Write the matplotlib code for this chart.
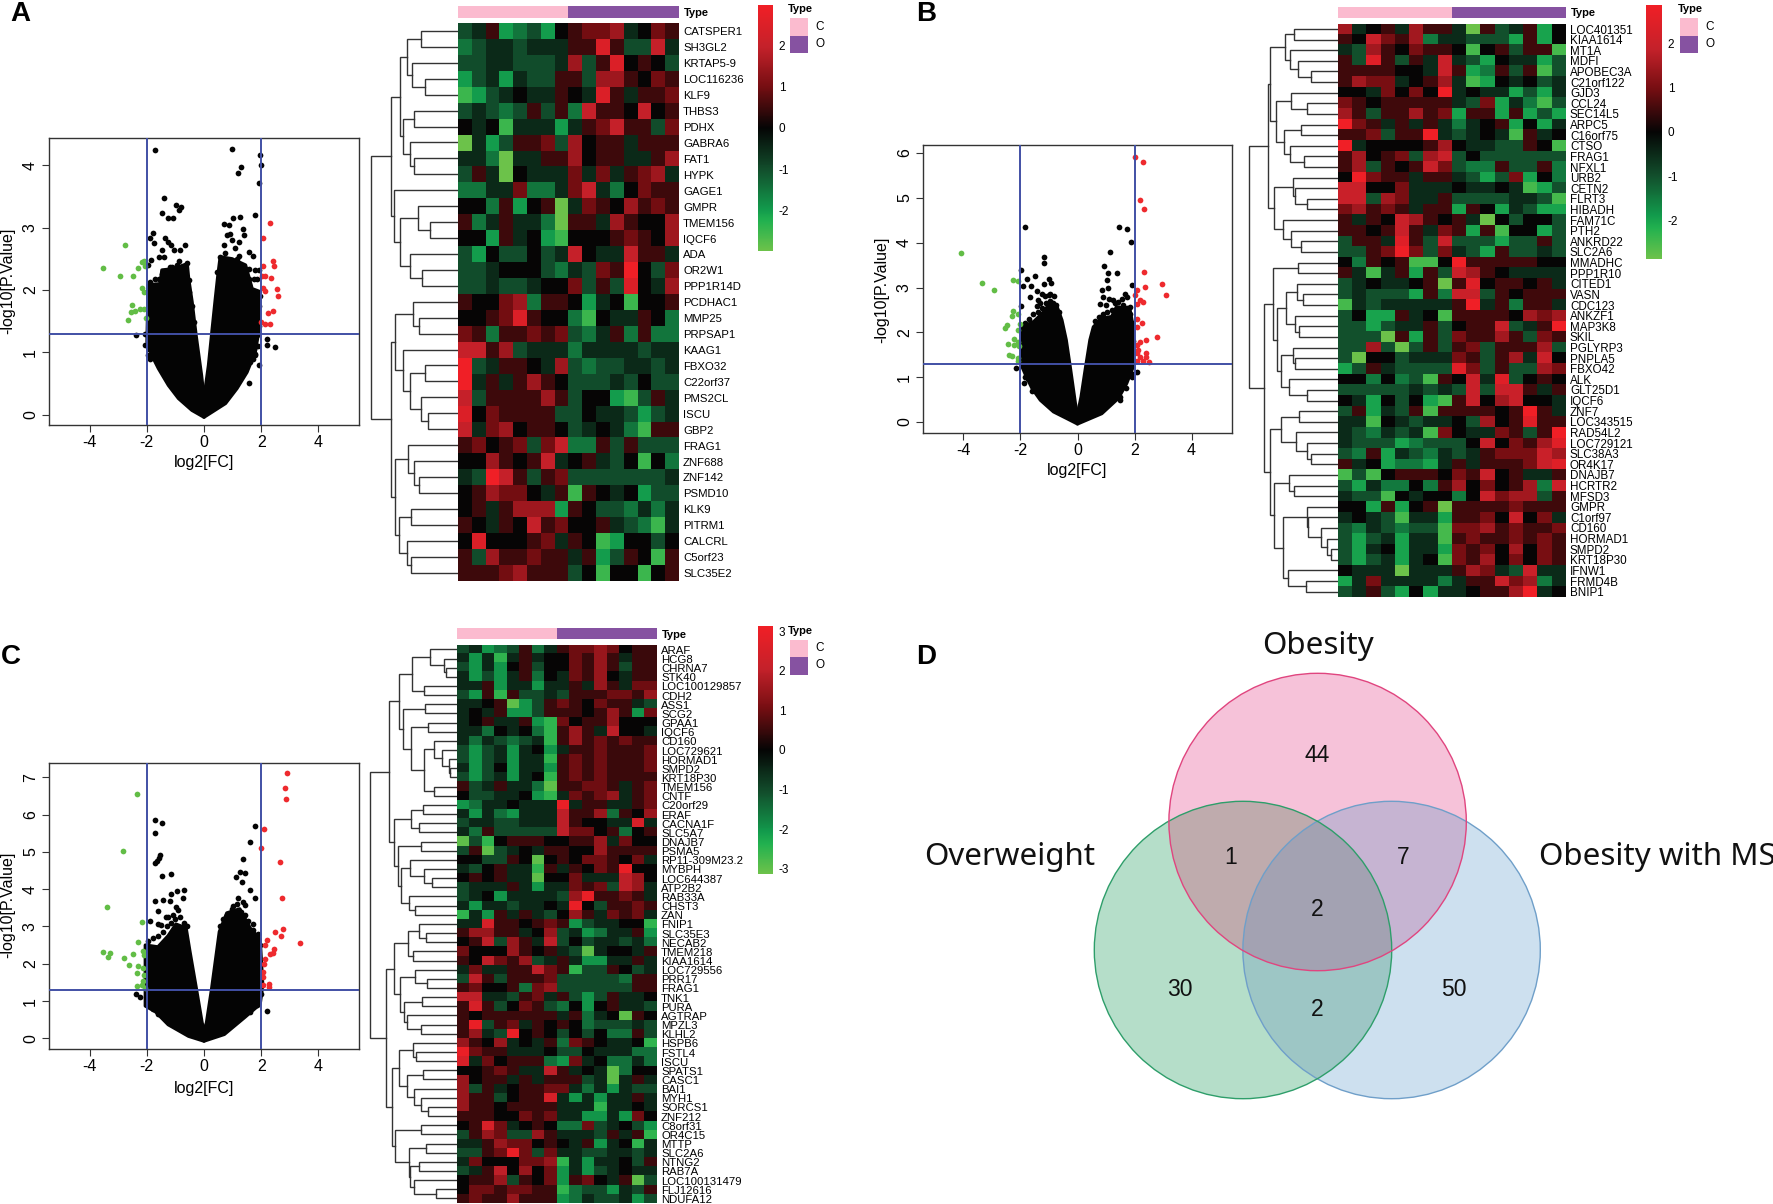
#!/usr/bin/env python
import numpy as np
import matplotlib
matplotlib.use('Agg')
import matplotlib.pyplot as plt
from matplotlib.colors import LinearSegmentedColormap, ListedColormap, Normalize
from matplotlib.patches import Circle, Polygon, Rectangle

plt.rcParams['font.family'] = ['Liberation Sans', 'DejaVu Sans']
plt.rcParams['axes.unicode_minus'] = False

W, H = 1773, 1204

# ---- panel A
A_GENES = ['CATSPER1','SH3GL2','KRTAP5-9','LOC116236','KLF9','THBS3','PDHX','GABRA6','FAT1','HYPK','GAGE1','GMPR',
  'TMEM156','IQCF6','ADA','OR2W1','PPP1R14D','PCDHAC1','MMP25','PRPSAP1','KAAG1','FBXO32','C22orf37','PMS2CL','ISCU',
  'GBP2','FRAG1','ZNF688','ZNF142','PSMD10','KLK9','PITRM1','CALCRL','C5orf23','SLC35E2']
# heatmap cells in half units of the colour scale
A_CELLS = [
[-2,-1,1,-4,-3,-2,-4,0,1,2,2,3,-1,0,2,1],
[-3,-2,-1,-1,-2,-1,-1,-1,1,1,5,1,-2,-2,4,-1],
[-2,-2,-1,-1,-2,-2,-2,-1,3,-2,1,5,0,1,0,-2],
[-4,-2,-1,-4,-1,-2,-2,1,1,-2,3,3,1,0,2,1],
[-5,-4,-2,-1,0,-1,-1,1,0,-1,5,1,-1,1,1,2],
[-2,-1,-2,-3,-2,1,-2,1,-3,4,1,1,0,4,0,1],
[0,-1,0,-5,-1,-1,-1,-4,-1,1,2,4,1,1,-2,2],
[-6,-1,-4,-2,1,1,2,-2,3,0,1,1,-1,1,1,1],
[-1,-1,-3,-6,-1,-1,1,1,3,0,1,1,-1,-1,1,3],
[-2,1,-1,-6,0,-1,-1,-1,2,-1,2,-1,1,2,3,-1],
[-3,-3,-1,-1,2,-3,-3,-1,2,4,-1,-3,0,2,1,1],
[0,0,-3,1,-4,0,1,-6,-1,2,1,0,3,1,2,1],
[1,-3,-1,1,-1,-1,-3,-6,1,1,-1,3,1,0,0,3],
[0,0,-4,1,-1,0,-4,-5,0,0,0,1,2,1,0,3],
[-2,-4,0,-2,-2,0,-2,-1,4,0,-1,-1,4,1,1,-1],
[-2,-2,-1,0,0,0,-2,-3,-1,-2,2,1,6,0,-2,2],
[-2,-2,-1,-2,-2,-1,0,0,2,-2,1,-2,5,0,-1,3],
[1,0,0,2,3,-3,1,1,0,-4,-1,0,-5,0,0,1],
[0,0,1,2,5,1,0,0,-3,-5,0,-1,-1,1,0,-3],
[2,1,-3,1,1,2,1,2,-2,-3,-1,1,-3,1,-3,-3],
[4,4,1,3,-2,-1,-1,-1,-3,-1,-1,-1,-1,-2,-1,-1],
[6,-2,-1,1,1,0,-1,3,-2,-3,-2,-2,-1,-1,-2,-1],
[6,-1,1,-1,1,3,1,0,-2,-2,-2,-1,-2,0,-2,-2],
[4,-2,1,1,1,1,3,1,-2,0,0,-4,-5,-2,1,-1],
[5,0,2,1,1,1,1,-2,-2,0,-1,-1,-2,-4,-2,-1],
[4,-1,2,3,0,1,1,0,-2,-1,0,-1,-3,-5,1,1],
[1,2,0,1,2,-2,2,4,-3,-3,1,-2,1,-2,-2,-2],
[0,0,3,1,0,1,4,-1,0,1,-1,-2,0,-5,0,-3],
[-1,-2,6,4,1,-2,1,2,-2,-2,-2,-2,-2,-2,-2,-1],
[0,1,3,2,2,0,-1,1,-5,1,0,-1,0,-4,-2,-2],
[0,1,-1,1,3,3,3,-4,1,0,-2,-2,-3,-1,-3,-1],
[1,0,-1,1,0,4,1,2,0,0,1,-1,-2,-3,-5,-1],
[0,5,0,0,0,1,2,-1,1,0,-5,-4,0,0,-2,0],
[1,-2,3,1,1,2,1,1,-1,1,-4,-2,1,0,-5,1],
[1,1,1,2,3,1,1,1,-2,0,-5,0,0,-5,0,1]]
# (merge height, upper child, lower child), 0 is a leaf
A_TREE = (260,(200,(175,(153,(111,0,0),(138,0,(98,0,0))),(166,(133,0,0),(145,0,(133,0,0)))),
  (193,0,(173,(120,0,(83,0,0)),(143,0,(108,0,0))))),
  (200,(188,(135,0,(116,0,0)),(166,0,(145,(98,0,0),(111,0,(91,0,0))))),
  (190,(150,0,(133,0,(118,0,0))),(178,(141,0,0),(153,0,(141,0,0))))))
A_MASS_L = [(0,-0.04),(-0.42,0.07),(-0.89,0.26),(-1.24,0.47),(-1.59,0.74),(-1.82,0.95),(-1.99,1.17),(-1.96,1.81),(-1.96,2.08),
  (-1.53,2.10),(-1.47,2.32),(-1.06,2.34),(-0.59,2.42),(-0.54,2.18),(-0.42,1.81),(-0.28,1.27),(-0.09,0.63),(0,0.26)]
A_MASS_R = [(0,0.26),(0.16,0.79),(0.28,1.33),(0.40,1.86),(0.49,2.24),(0.57,2.53),(0.98,2.50),(1.45,2.40),(1.68,2.02),(1.97,1.97),
  (1.91,1.33),(1.79,1.01),(1.50,0.68),(1.15,0.42),(0.75,0.18),(0,-0.04)]
A_BLACK = [(-1.70,4.24),(0.98,4.27),(1.95,4.17),(2.00,4.00),(1.30,3.98),(1.19,3.88),(1.91,3.72),(-1.41,3.48),(-0.97,3.36),(-0.80,3.33),
  (-0.88,3.28),(-1.48,3.24),(-1.26,3.15),(-1.10,3.15),(-1.80,2.92),(-1.89,2.84),(-1.74,2.76),(-1.38,2.84),(-1.26,2.77),(-1.15,2.72),
  (-0.65,2.73),(-1.06,2.64),(-0.83,2.65),(-1.47,2.64),(-1.59,2.53),(-1.41,2.53),(-1.87,2.48),(-1.96,2.40),(-0.89,2.46),(-0.59,2.44),
  (-1.18,2.37),(-1.06,2.29),(-1.47,2.26),(-1.59,2.18),(-0.54,2.16),(0.69,3.06),(0.86,3.05),(1.00,3.16),(1.27,3.17),(1.77,3.21),
  (1.35,2.98),(0.92,2.90),(0.80,2.88),(1.39,2.89),(0.98,2.81),(1.21,2.77),(0.69,2.73),(1.10,2.67),(0.75,2.60),(1.21,2.55),(1.56,2.61),
  (1.73,2.55),(1.91,2.32),(1.45,2.34),(1.33,2.37),(1.85,2.18),(1.59,2.18),(0.57,2.53),(0.86,2.47),(1.45,2.13),(-2.38,1.28),(-2.08,1.29),
  (-2.05,1.11),(2.20,1.22),(2.20,1.12),(2.48,1.09),(1.93,0.79),(1.59,0.51),(1.85,1.28),(1.9,1.7),(1.85,1.5),(1.75,1.6),(1.95,1.9),
  (1.8,1.9),(1.9,1.1),(1.8,0.95),(1.7,0.9),(-1.95,0.95),(-1.9,0.9),
  (-1.88,2.13),(-1.70,2.18),(-1.41,2.21),(-1.24,2.13),(-1.12,2.37),(-0.94,2.40),(-0.77,2.37),(-0.71,2.24),(-0.59,2.13),(-0.51,1.97),
  (-0.42,1.75),(-0.36,1.49),(-1.91,1.06),(-1.84,0.98),(0.45,2.29),(0.63,2.45),(0.80,2.42),(0.98,2.37),(1.15,2.50),(1.33,2.34),(1.56,2.34),
  (1.79,2.32),(1.74,2.18),(1.56,2.08),(1.45,2.02),(1.79,1.86),(1.91,1.75),(1.74,1.65),(1.91,1.43),(1.74,1.06),(1.79,0.98),(1.5,0.8),(1.62,0.85)]
A_GREEN = [(-2.75,2.73),(-3.53,2.36),(-2.94,2.23),(-2.48,2.23),(-2.30,2.35),(-2.17,2.45),(-2.11,2.47),(-2.05,2.45),(-2.07,2.39),
  (-2.17,2.03),(-2.11,1.96),(-2.51,1.76),(-2.55,1.64),(-2.42,1.66),(-2.23,1.70),(-2.09,1.70),(-2.66,1.52),(-2.04,1.55)]
A_RED = [(2.32,3.07),(2.06,2.84),(2.41,2.46),(2.45,2.38),(2.06,2.38),(2.14,2.23),(2.34,2.20),(2.03,2.23),(2.05,2.03),(2.12,1.98),
  (2.54,2.01),(2.60,1.91),(2.41,1.67),(2.23,1.63),(2.00,1.49),(2.12,1.46),(2.30,1.46)]

# ---- panel B
B_GENES = ['LOC401351','KIAA1614','MT1A','MDFI','APOBEC3A','C21orf122','GJD3','CCL24','SEC14L5','ARPC5','C16orf75','CTSO','FRAG1',
  'NFXL1','URB2','CETN2','FLRT3','HIBADH','FAM71C','PTH2','ANKRD22','SLC2A6','MMADHC','PPP1R10','CITED1','VASN','CDC123','ANKZF1',
  'MAP3K8','SKIL','PGLYRP3','PNPLA5','FBXO42','ALK','GLT25D1','IQCF6','ZNF7','LOC343515','RAD54L2','LOC729121','SLC38A3','OR4K17',
  'DNAJB7','HCRTR2','MFSD3','GMPR','C1orf97','CD160','HORMAD1','SMPD2','KRT18P30','IFNW1','FRMD4B','BNIP1']
B_CELLS = [
[3,-1,0,1,-1,3,1,1,-1,-6,1,-2,-1,1,-4,0],
[1,0,4,2,1,3,-3,-1,-1,-2,-2,-2,-4,1,-4,0],
[-1,-2,3,1,0,2,1,1,0,-5,0,1,-2,1,1,-5],
[1,-2,5,1,-2,1,-1,4,-1,-2,-4,0,-1,-1,-4,-2],
[1,1,1,1,0,0,-1,4,1,-4,-3,1,-2,1,-5,-2],
[1,3,2,2,-1,0,1,3,-1,-5,-4,0,-1,0,-2,-1],
[0,0,-1,2,0,2,0,6,-1,0,-1,-1,-4,-2,-4,-1],
[2,1,0,1,1,1,1,1,-1,-2,2,-4,-1,-3,-5,-2],
[3,1,-2,1,1,3,1,2,-4,1,1,-4,1,-4,-2,-4],
[6,2,1,-1,1,-1,1,-1,-3,-1,0,1,-4,0,-4,-1],
[1,1,2,-2,1,1,6,-1,-2,-1,0,-1,-5,1,-1,0],
[6,-1,0,0,0,0,1,3,0,-1,-1,-2,-2,1,0,-5],
[1,3,0,1,2,-2,3,4,-2,0,-2,-2,-2,-2,-2,-2],
[1,3,-2,1,0,1,4,2,-2,-3,-3,1,-2,-2,1,-3],
[0,6,2,1,1,-1,1,1,-1,-2,-4,-2,2,-4,0,-3],
[4,4,0,0,2,-1,-1,-1,0,-1,-1,0,-1,-5,-4,-2],
[4,4,-2,3,2,-1,-1,1,-2,-2,-2,-2,-1,-1,-2,-5],
[2,3,1,2,1,-1,1,1,-4,1,0,-4,-1,-2,-4,-4],
[1,-1,1,0,4,3,1,0,1,-1,-6,0,-2,0,0,-2],
[1,1,0,1,4,1,-1,2,1,-4,1,-5,0,0,-4,-2],
[-2,1,1,-1,5,1,-2,4,-2,-2,-2,-4,-2,-2,1,-2],
[-2,-2,1,2,6,2,-2,2,-1,-2,-4,1,-2,-2,-1,-2],
[0,-3,1,0,1,-5,-5,0,6,1,1,1,1,1,0,0],
[1,-1,-5,-1,1,-4,1,-2,4,3,1,0,-1,-1,-1,-1],
[-2,-1,0,-1,-1,0,1,-6,1,5,0,1,1,0,1,-1],
[-2,-1,-2,-2,-2,-4,1,-3,4,4,-2,1,0,1,1,1],
[-5,-1,-2,-1,-1,-1,-1,-1,1,6,-1,1,-3,1,1,-1],
[-2,0,-4,-4,1,-1,0,-5,1,1,1,1,0,3,2,3],
[-2,-2,-4,-2,-1,-1,1,-2,0,1,1,4,-2,-1,1,6],
[-2,-2,-2,-6,1,-4,1,-2,2,1,1,3,1,-2,2,1],
[-2,-2,3,-2,-6,-2,1,-2,1,2,-2,1,1,1,3,-2],
[-2,-6,0,0,-2,-1,-1,-1,2,1,-2,1,3,-1,4,0],
[-4,-2,1,-1,-2,-2,-2,-2,5,2,-2,1,-2,-2,3,2],
[0,0,-3,0,-3,-2,-5,1,0,4,-1,5,-2,0,1,0],
[-2,-2,-2,-2,-2,-1,-2,-1,-2,4,-2,4,4,1,-1,1],
[0,-1,-4,0,-2,0,-4,-5,1,4,0,3,4,0,0,-1],
[-2,1,-4,-1,-2,1,-5,1,1,1,1,0,1,6,1,-1],
[-1,-1,-5,0,-1,-2,-1,-1,0,-2,3,0,1,5,1,1],
[-1,-2,-3,-1,-2,-1,-5,2,0,-1,-1,2,1,-2,1,6],
[-1,-2,-2,-2,-4,-3,-2,-2,-2,0,4,0,2,1,3,5],
[-2,-3,1,-4,-1,-2,-3,-1,-2,-1,1,2,2,2,4,3],
[1,-1,0,-4,-3,-3,-4,-1,1,-1,1,1,1,2,4,5],
[-5,-2,-5,0,1,1,1,0,2,1,4,0,1,-1,-1,1],
[-2,-4,-1,-3,-3,0,-3,1,3,0,2,0,1,3,-3,4],
[-1,-2,-2,-5,0,-1,0,0,-3,0,4,2,3,3,-2,1],
[0,0,-4,1,-4,0,1,-6,1,1,1,1,2,1,1,1],
[-1,0,-1,-2,-5,-1,-1,-4,1,1,2,0,4,0,2,-1],
[-2,-3,-1,-2,-3,-2,-2,-5,2,2,3,1,2,1,1,2],
[-2,-4,-2,-1,-4,-1,-1,-5,1,2,1,1,2,1,2,1],
[-2,-4,-1,0,-4,-1,-1,-4,2,1,2,0,3,0,2,1],
[-2,-4,-2,-1,-4,-1,0,-5,2,1,3,0,2,0,2,1],
[0,-1,-1,-1,-6,-1,-1,-1,1,3,2,-1,-2,4,-1,-1],
[-4,-1,2,-1,-1,-1,-1,-3,-1,1,1,4,2,3,-3,-1],
[-2,-1,1,-2,-4,0,-4,-1,-1,0,1,1,3,6,-1,0]]
B_TREE = (266,
  (208,(203,(158,(131,0,0),(143,0,(118,0,(81,0,0)))),(185,(140,0,(93,0,0)),(161,(111,0,0),(143,0,(100,0,0))))),
    (190,(135,0,(128,0,(93,0,0))),(163,0,(141,0,(111,0,0))))),
  (220,(193,(118,0,0),(181,(156,(121,0,(103,0,0)),(128,0,(116,0,0))),(170,(135,0,(128,0,0)),(145,0,(91,0,0))))),
    (202,(170,(115,0,0),(126,0,(93,0,(80,0,0)))),(191,(145,0,(131,0,0)),
      (163,(93,0,(88,0,(50,0,(33,0,(20,0,0))))),(148,0,(95,0,0)))))))
B_MASS_L = [(0,-0.04),(-0.37,0.08),(-0.84,0.23),(-1.30,0.49),(-1.59,0.75),(-1.79,1.01),(-1.94,1.23),(-1.94,2.12),(-1.53,2.24),(-1.24,2.42),
  (-1.01,2.61),(-0.72,2.57),(-0.55,2.27),(-0.40,1.83),(-0.26,1.23),(-0.08,0.42),(0,0.16)]
B_MASS_R = [(0,0.16),(0.13,0.56),(0.29,1.23),(0.44,1.83),(0.56,2.12),(0.85,2.31),(1.20,2.35),(1.37,2.57),(1.84,2.50),(1.95,2.12),(1.95,1.23),
  (1.72,0.86),(1.43,0.53),(0.85,0.19),(0,-0.04)]
B_BLACK = [(-1.84,4.36),(1.47,4.36),(1.72,4.30),(1.87,4.02),(1.15,3.79),(-1.16,3.67),(-1.19,3.54),(-1.99,3.40),(0.92,3.48),(-1.48,3.25),
  (-1.77,3.18),(-1.01,3.19),(1.08,3.33),(1.37,3.33),(-1.91,3.04),(-1.63,3.04),(-1.19,3.08),(-0.93,3.09),(-1.42,2.93),(-1.24,2.85),
  (-1.65,2.79),(-1.40,2.73),(-1.01,2.83),(-0.84,2.81),(-1.97,2.59),(-1.42,2.59),(1.02,3.16),(1.08,2.98),(0.85,2.94),(0.91,2.79),(1.92,3.06),
  (1.72,2.78),(1.43,2.68),(0.79,2.64),(1.26,2.72),(1.55,2.53),(1.84,2.57),(-2.15,1.20),(-1.87,0.87),(2.08,1.11),(1.95,1.06),(1.49,0.49),
  (-1.85,2.2),(-1.7,2.3),(-1.55,2.4),(-1.4,2.45),(-1.25,2.55),(-1.1,2.65),(-0.95,2.7),(-0.85,2.65),(-0.75,2.6),(-0.65,2.45),(-1.3,2.65),
  (-1.15,2.8),(-0.95,2.85),(-1.9,1.3),(-1.85,1.0),(-1.75,0.95),(-1.6,0.7),(0.6,2.25),(0.75,2.35),(0.9,2.4),(1.05,2.45),(1.2,2.5),(1.3,2.65),
  (1.45,2.55),(1.6,2.6),(1.75,2.55),(1.85,2.4),(1.9,2.2),(1.0,2.6),(1.1,2.75),(1.55,2.75),(1.65,2.85),(1.93,1.8),(1.9,1.0),(1.7,0.75),(1.5,0.55)]
B_GREEN = [(-4.09,3.77),(-3.36,3.10),(-2.94,2.95),(-2.28,3.16),(-2.10,3.14),(-2.26,2.48),(-2.30,2.37),(-2.09,2.41),(-2.03,2.18),(-2.47,2.17),
  (-2.53,2.09),(-2.09,2.06),(-2.23,1.86),(-2.45,1.73),(-2.23,1.72),(-2.09,1.78),(-2.05,1.69),(-2.41,1.49),(-2.29,1.48),(-2.07,1.42),(-2.08,1.37)]
B_RED = [(2.02,5.92),(2.30,5.79),(2.20,4.95),(2.33,4.76),(2.33,3.34),(2.38,3.01),(2.95,3.07),(3.09,2.84),(2.09,2.94),(2.03,2.83),(2.19,2.72),
  (2.30,2.67),(2.09,2.64),(2.09,2.30),(2.27,2.21),(2.07,2.12),(2.80,1.89),(2.42,1.83),(2.19,1.78),(2.07,1.72),(2.13,1.60),(2.42,1.53),
  (2.07,1.53),(2.19,1.46),(2.42,1.46),(2.30,1.37),(2.51,1.34),(2.07,1.37)]

# ---- panel C
C_GENES = ['ARAF','HCG8','CHRNA7','STK40','LOC100129857','CDH2','ASS1','SCG2','GPAA1','IQCF6','CD160','LOC729621','HORMAD1','SMPD2',
  'KRT18P30','TMEM156','CNTF','C20orf29','ERAF','CACNA1F','SLC5A7','DNAJB7','PSMA5','RP11-309M23.2','MYBPH','LOC644387','ATP2B2','RAB33A',
  'CHST3','ZAN','FNIP1','SLC35E3','NECAB2','TMEM218','KIAA1614','LOC729556','PRR17','FRAG1','TNK1','PURA','AGTRAP','MPZL3','KLHL2','HSPB6',
  'FSTL4','ISCU','SPATS1','CASC1','BAI1','MYH1','SORCS1','ZNF212','C8orf31','OR4C15','MTTP','SLC2A6','NTNG2','RAB7A','LOC100131479',
  'FLJ12616','NDUFA12']
C_CELLS = [
[-2,-1,-4,-3,-2,1,-3,-1,1,2,2,3,2,0,1,1],
[-1,-4,-1,-5,-1,1,-1,0,0,2,1,3,1,-1,1,1],
[-2,-4,-1,-4,0,1,-2,0,0,2,1,3,1,-2,1,1],
[-1,-4,-2,-4,-1,1,-3,0,-1,2,1,3,0,-1,1,1],
[-1,-1,1,-4,-1,-1,-4,-1,-1,1,-1,3,1,-1,2,2],
[-2,-4,1,-5,1,-2,-2,-1,-2,1,1,1,2,2,1,3],
[-1,-1,0,1,-6,-4,-2,1,2,1,0,2,1,1,-1,-2],
[-1,0,-1,1,-4,-4,-2,1,1,1,0,1,3,1,-4,2],
[-1,0,1,-1,-1,1,-4,-5,2,0,1,1,3,0,0,0],
[-1,-1,-3,0,-1,0,-3,-5,1,3,1,-1,4,0,0,-1],
[-1,-3,-1,-2,-3,-2,-1,-5,1,3,1,2,1,2,1,1],
[-2,-4,-2,-1,-4,-1,0,-4,-1,1,1,2,1,1,1,2],
[-2,-4,-2,-1,-4,-1,-1,-5,1,2,1,2,1,1,1,2],
[-1,-4,-2,0,-4,-1,-1,-4,1,2,1,2,1,1,1,2],
[-2,-4,-2,-1,-4,-1,0,-5,1,2,1,2,1,1,1,1],
[1,-2,-1,1,-1,-1,-3,-6,1,1,2,2,1,-1,1,2],
[0,-2,-2,-1,-1,0,-4,-5,-1,2,1,2,3,-1,1,2],
[-4,-3,-1,-1,0,-1,-1,-1,6,-1,1,1,-1,-1,1,2],
[-1,-4,-1,-3,-4,-1,-1,-1,4,1,1,3,-3,1,0,3],
[-2,-1,-1,-2,-2,-1,-1,-1,4,1,0,0,-1,-1,5,-1],
[-1,-3,1,-2,-2,-2,-2,-2,4,2,2,0,1,-3,0,1],
[-6,-2,-5,0,1,1,1,0,0,1,1,3,-1,2,0,0],
[-2,1,-6,-2,-1,0,-1,1,1,0,0,3,1,1,1,1],
[0,0,-2,-2,1,0,-6,0,1,0,2,2,1,0,2,-1],
[-1,-2,0,1,-1,-1,-5,1,-1,1,0,2,1,6,0,0],
[0,1,0,1,-1,-1,-6,0,0,2,-1,-1,-1,4,3,0],
[-2,-1,-1,-1,1,-1,-4,-1,-1,2,1,2,-2,4,3,-1],
[-2,-1,0,-4,-1,-1,-1,-1,-2,3,6,1,1,2,1,-1],
[-1,-4,-1,-1,-2,-1,-1,0,-1,6,0,-2,1,1,2,1],
[-5,-1,-4,1,-1,1,-1,-2,0,3,1,-1,2,1,2,-1],
[-1,-1,5,1,1,0,1,2,1,-4,-2,-1,-1,0,0,-5],
[1,3,3,1,1,-1,0,3,-2,-1,-4,-3,-1,-1,1,-4],
[0,1,4,-2,3,1,-1,4,-2,0,-2,-1,-1,-2,-1,-3],
[2,0,0,0,3,1,0,1,-1,-2,-6,-1,0,0,-1,1],
[1,0,4,2,1,3,-2,-1,1,-1,-4,-4,-1,-1,1,-1],
[-1,2,-1,-1,1,1,4,2,1,-5,-2,-2,1,0,-2,-1],
[-2,4,1,-2,1,1,1,2,-2,-2,-2,-2,-2,-3,1,1],
[1,2,0,0,1,-3,2,3,-2,-2,-2,-2,-2,-2,1,1],
[4,4,-1,-1,-2,1,2,-1,1,-2,-4,-2,1,-1,-1,0],
[1,5,1,-2,0,2,1,-2,-3,0,-4,0,1,-1,-1,-2],
[1,0,1,1,1,1,1,1,-1,1,-3,-1,0,-6,1,0],
[1,6,-2,1,2,-1,1,0,1,0,-3,-2,-2,-2,-1,-2],
[1,3,-1,-2,6,0,1,0,-2,0,-2,0,-3,-3,1,-2],
[3,1,0,3,-1,0,-1,1,-3,2,1,0,-1,-1,0,-5],
[6,2,1,1,-1,-1,-1,0,-2,-2,0,-1,-1,-1,-3,-3],
[5,-1,2,0,1,1,1,-3,-4,2,-1,0,-3,-3,-1,-3],
[0,0,1,2,1,-1,-1,4,1,-1,0,-1,-6,-3,0,0],
[3,0,1,1,-1,1,-1,1,1,1,-2,-1,-6,-1,1,-1],
[3,-2,1,-1,0,1,1,2,2,-1,-3,-1,-4,-1,-2,-2],
[3,1,1,-2,0,1,1,5,-1,-4,-1,-4,-1,-1,1,-1],
[3,1,1,0,1,1,1,1,-1,-1,-1,-5,-1,-1,0,-1],
[1,1,1,0,0,2,1,2,-1,-1,-4,-4,-1,-4,2,0],
[0,1,5,2,-1,0,1,0,-3,-3,2,-2,-1,0,-2,-4],
[-2,1,3,2,-2,-2,3,1,-1,-1,-1,-2,1,-1,1,-5],
[-1,-1,1,3,2,2,0,1,0,-1,1,-4,-1,0,-5,-1],
[-2,-2,1,2,6,2,-2,2,-1,-1,-2,-2,-1,-1,-2,-1],
[-1,2,0,0,0,2,2,3,-5,-1,-4,-1,-1,0,-2,1],
[-2,-1,1,4,0,3,0,2,-4,-1,-4,-2,-1,0,-1,-1],
[0,1,1,3,-2,1,0,2,-4,1,2,0,-1,1,-6,-2],
[0,2,2,1,2,2,1,1,-5,-3,-2,-2,-4,-1,-2,1],
[1,2,1,1,3,1,1,1,-4,-3,-1,-2,-2,-1,-4,-2]]
C_TREE = (260,
  (203,(175,(135,(80,0,(38,0,(32,0,0))),(100,0,0)),(163,(95,0,0),(137,(88,0,0),(100,(68,0,(45,0,(25,0,(20,0,0)))),(70,0,0))))),
    (190,(138,(102,0,0),(115,0,0)),(178,(107,0,0),(168,(142,0,(98,0,(75,0,0))),(143,0,(125,0,0)))))),
  (213,(190,(148,(113,0,(93,0,0)),(132,0,0)),(170,(125,0,(90,0,0)),(160,(105,0,0),(150,0,(107,0,0))))),
    (195,(175,(132,0,(122,0,0)),(150,(102,0,0),(130,0,(107,0,(88,0,0))))),
      (185,(107,0,0),(145,(93,0,0),(142,(113,0,0),(128,0,(63,0,0))))))))
C_MASS_L = [(0,-0.07),(-0.54,0.06),(-1.25,0.37),(-1.70,0.72),(-2.05,0.87),(-2.05,2.50),(-1.61,2.45),(-1.25,2.75),(-0.98,3.06),(-0.63,2.96),
  (-0.50,2.35),(-0.27,1.33),(-0.07,0.42),(0,0.21)]
C_MASS_R = [(0,0.21),(0.09,0.42),(0.27,1.33),(0.45,2.35),(0.54,2.86),(0.80,3.36),(1.25,3.47),(1.61,2.96),(1.96,2.65),(2.05,1.43),(1.96,0.92),
  (1.43,0.57),(0.71,0.11),(0,-0.07)]
C_BLACK = [(-1.71,5.85),(-1.46,5.77),(-1.73,5.50),(-1.54,4.92),(-1.59,4.84),(-1.64,4.76),(-1.71,4.71),(-1.48,4.35),(-1.16,4.40),(-0.71,3.97),
  (-0.95,3.95),(-1.16,3.87),(-1.43,3.72),(-1.70,3.69),(-1.20,3.67),(-0.75,3.77),(-0.98,3.52),(-1.61,3.41),(-1.88,3.14),(-1.34,3.26),
  (-1.07,3.31),(-1.61,3.06),(1.79,5.70),(1.61,5.27),(1.38,4.82),(1.25,4.46),(1.11,4.33),(1.43,4.43),(1.34,4.18),(1.61,3.97),(1.79,3.75),
  (1.43,3.57),(0.98,3.47),(1.25,3.26),(1.70,3.06),(0.80,3.06),(1.61,2.65),(1.88,2.80),(-2.39,1.20),(-2.23,1.11),(-2.00,0.92),(2.21,0.74),
  (1.96,1.18),(-1.95,2.6),(-1.8,2.7),(-1.6,2.75),(-1.45,2.85),(-1.3,3.0),(-1.15,3.1),(-1.0,3.2),(-0.85,3.25),(-0.7,3.1),(-0.6,3.0),(-1.5,3.05),
  (-1.25,3.25),(-0.9,3.45),(-1.95,0.95),(-1.8,0.8),(-1.6,0.65),(0.55,3.0),(0.65,3.2),(0.8,3.3),(1.0,3.55),(1.15,3.6),(1.3,3.4),(1.45,3.3),
  (1.55,3.15),(1.7,2.9),(1.85,2.7),(1.95,2.5),(1.2,3.75),(1.35,3.65),(1.55,2.85),(2.0,1.2),(1.85,0.9),(1.6,0.7)]
C_GREEN = [(-2.36,6.54),(-2.84,5.03),(-3.38,3.53),(-2.18,3.11),(-3.52,2.31),(-3.29,2.29),(-3.36,2.17),(-2.79,2.15),(-2.48,2.27),(-2.30,2.58),
  (-2.14,2.35),(-2.11,2.23),(-2.61,1.97),(-2.32,1.94),(-2.14,1.89),(-2.36,1.74),(-2.11,1.69),(-2.14,1.53),(-2.36,1.41),(-2.18,1.43),(-2.05,1.36)]
C_RED = [(2.91,7.11),(2.84,6.72),(2.86,6.43),(2.09,5.60),(2.00,5.10),(2.66,4.74),(2.71,3.75),(2.75,2.94),(2.48,2.86),(2.70,2.75),(3.34,2.55),
  (2.20,2.63),(2.14,2.51),(2.46,2.40),(2.41,2.30),(2.32,2.25),(2.14,2.14),(2.11,1.99),(2.05,1.79),(2.05,1.64),(2.29,1.45),(2.29,1.38),(2.05,1.43)]

# ---- panel D
VENN_NAMES = ['Obesity', 'Overweight', 'Obesity with MS']
VENN_COUNTS = [44, 30, 50, 1, 7, 2, 2]

TYPE_GROUP = [0]*8 + [1]*8

cell_cmap = LinearSegmentedColormap.from_list('cells', [(0.0,'#6CC24A'),(0.12,'#22B14F'),(0.17,'#129A4C'),(0.33,'#124E2C'),(0.5,'#050505'),
  (0.67,'#760E12'),(0.83,'#C4212A'),(1.0,'#F01F26')])
type_cmap = ListedColormap(['#FBBBCF', '#8652A1'])

fig = plt.figure(figsize=(W/100.0, H/100.0), dpi=100)

def px_axes(l, t, r, b):
  return fig.add_axes([l/W, 1-b/H, (r-l)/W, (b-t)/H])

ov = fig.add_axes([0, 0, 1, 1], zorder=5)
ov.set_xlim(0, W)
ov.set_ylim(H, 0)
ov.axis('off')

def volcano(box, ylim, yticks, mass_l, mass_r, black, green, red, xlab, ylab):
  ax = px_axes(*box)
  for mass in (mass_l, mass_r):
    ax.add_patch(Polygon(mass, closed=True, fc='#040404', ec='#040404', lw=2.5, joinstyle='round', zorder=2))
  for pts, col in ((black, '#040404'), (green, '#62BD46'), (red, '#EE2A2E')):
    pts = np.array(pts)
    ax.scatter(pts[:,0], pts[:,1], s=17, c=col, lw=0, zorder=3)
  ax.axvline(-2, color='#4150A5', lw=1.4, zorder=4)
  ax.axvline(2, color='#4150A5', lw=1.4, zorder=4)
  ax.axhline(1.3, color='#4150A5', lw=1.4, zorder=4)
  ax.set_xlim(-5.42, 5.42)
  ax.set_ylim(*ylim)
  ax.set_xticks([-4, -2, 0, 2, 4])
  ax.set_yticks(yticks)
  ax.tick_params(axis='x', length=5, width=0.8, color='#333333', labelsize=11.5, pad=2)
  ax.tick_params(axis='y', length=5, width=0.8, color='#333333', labelsize=11.5, pad=3, labelrotation=90)
  for lab in ax.get_yticklabels():
    lab.set_va('center')
  for s in ax.spines.values():
    s.set_color('#333333')
    s.set_linewidth(1.0)
  ov.text(xlab[0], xlab[1], 'log2[FC]', fontsize=11.5, ha='center', va='center')
  ov.text(ylab[0], ylab[1], '-log10[P.Value]', fontsize=11.5, ha='center', va='center', rotation=90)

def draw_tree(ax, node, leaf):
  # returns the y of this node, leaf is a one item list with the next free row
  if node == 0:
    y = leaf[0] + 0.5
    leaf[0] += 1
    return y, 0
  h, up, low = node
  y1, h1 = draw_tree(ax, up, leaf)
  y2, h2 = draw_tree(ax, low, leaf)
  ax.plot([h1, h, h, h2], [y1, y1, y2, y2], color='#333333', lw=1.0, solid_joinstyle='miter')
  return (y1+y2)/2.0, h

def heatmap(box, bar, cells, genes, tree, cbar, limit, ticks, labx, fs):
  l, t, r, b = box
  cells = np.array(cells)/2.0
  norm = Normalize(-limit, limit)
  ax = px_axes(*box)
  im = ax.imshow(cells, cmap=cell_cmap, norm=norm, aspect='auto', interpolation='nearest', extent=(0, cells.shape[1], cells.shape[0], 0))
  ax.axis('off')
  rowh = (b-t)/float(len(genes))
  for i, g in enumerate(genes):
    ov.text(labx, t+(i+0.5)*rowh+1.5, g, fontsize=fs, ha='left', va='center')
  # type bar on top
  ab = px_axes(l, bar[0], r, bar[1])
  ab.imshow([TYPE_GROUP], cmap=type_cmap, aspect='auto', interpolation='nearest')
  ab.axis('off')
  ov.text(labx+1, (bar[0]+bar[1])/2.0+1, 'Type', fontsize=8, fontweight='bold', ha='left', va='center')
  # dendrogram, one height unit is a third of a pixel
  dax = px_axes(l-tree[0]/3.0-1, t, l, b)
  dax.set_xlim(tree[0]+3, 0)
  dax.set_ylim(len(genes), 0)
  dax.axis('off')
  draw_tree(dax, tree, [0])
  # colour key
  cax = px_axes(*cbar)
  cb = fig.colorbar(im, cax=cax, ticks=ticks)
  cb.outline.set_visible(False)
  cb.ax.tick_params(length=0, pad=4, labelsize=8.5)
  cb.ax.set_yticklabels([str(v) for v in ticks])

def type_legend(x, y):
  ov.text(x+10, y-9, 'Type', fontsize=8, fontweight='bold', ha='center', va='center')
  for i, (name, col) in enumerate(zip(['C', 'O'], type_cmap.colors)):
    ov.add_patch(Rectangle((x, y+i*17.5), 18, 17.5, fc=col, ec='none'))
    ov.text(x+25, y+8.5+i*17.5, name, fontsize=8.5, ha='left', va='center')

volcano((49, 138, 359, 425), (-0.167, 4.44), [0, 1, 2, 3, 4], A_MASS_L, A_MASS_R, A_BLACK, A_GREEN, A_RED, (204, 463), (8, 281))
heatmap((458, 23, 679, 580.5), (6, 18), A_CELLS, A_GENES, A_TREE, (758, 5, 773, 251), 2.98, [-2, -1, 0, 1, 2], 683, 8.2)
type_legend(790, 18)

volcano((923, 145.4, 1232, 433), (-0.245, 6.17), [0, 1, 2, 3, 4, 5, 6], B_MASS_L, B_MASS_R, B_BLACK, B_GREEN, B_RED, (1077, 471), (881.5, 290))
heatmap((1337.7, 23.7, 1565, 597), (6.5, 18), B_CELLS, B_GENES, B_TREE, (1646, 5, 1662, 259), 2.87, [-2, -1, 0, 1, 2], 1570, 8.4)
type_legend(1680, 18)

volcano((49, 762.7, 359, 1049.4), (-0.295, 7.39), [0, 1, 2, 3, 4, 5, 6, 7], C_MASS_L, C_MASS_R, C_BLACK, C_GREEN, C_RED, (204, 1088), (8, 905))
heatmap((457, 644.8, 656, 1203), (628, 639.5), C_CELLS, C_GENES, C_TREE, (758, 626, 773, 874), 3.13, [-3, -2, -1, 0, 1, 2, 3], 661, 8.2)
type_legend(790, 639.5)

# venn, each region is filled on its own to keep the colours of the overlaps
pink = (1317.6, 822.0)
green = (1243.0, 950.0)
blue = (1391.6, 950.0)
radius = 148.7

def overlap(*circles):
  t = np.linspace(0, 2*np.pi, 720)
  pts = []
  for c in circles:
    p = np.column_stack((c[0]+radius*np.cos(t), c[1]+radius*np.sin(t)))
    keep = np.ones(len(p), dtype=bool)
    for o in circles:
      if o is not c:
        keep &= np.hypot(p[:,0]-o[0], p[:,1]-o[1]) <= radius+0.01
    pts.append(p[keep])
  pts = np.vstack(pts)
  mid = pts.mean(axis=0)
  return pts[np.argsort(np.arctan2(pts[:,1]-mid[1], pts[:,0]-mid[0]))]

for c, col in ((pink, '#F6C2D9'), (green, '#B5DEC9'), (blue, '#CDE0EF')):
  ov.add_patch(Circle(c, radius, fc=col, ec='none'))
for cs, col in (((pink, green), '#BFABAD'), ((pink, blue), '#C6B4D2'), ((green, blue), '#9DC6C5'), ((pink, green, blue), '#A3A2B2')):
  ov.add_patch(Polygon(overlap(*cs), closed=True, fc=col, ec='none'))
for c, col in ((blue, '#6F9FC9'), (green, '#2E9E6A'), (pink, '#E0457F')):
  ov.add_patch(Circle(c, radius, fc='none', ec=col, lw=1.0))

count_pos = [(1317.6, 755), (1180, 989), (1453.5, 989), (1231, 858), (1403, 858), (1317.6, 909), (1317.6, 1009)]
for v, (x, y) in zip(VENN_COUNTS, count_pos):
  ov.text(x, y, str(v), fontsize=16.5, ha='center', va='center', color='#111111')
name_pos = [(1317.6, 646, 'center'), (924, 857, 'left'), (1539, 857, 'left')]
for name, (x, y, ha) in zip(VENN_NAMES, name_pos):
  ov.text(x, y, name, fontsize=22.5, family='Noto Sans', fontweight='medium', ha=ha, va='center', color='#111111')

for letter, x, y in (('A', 10, 14), ('B', 916, 14), ('C', 1, 657), ('D', 916, 657)):
  ov.text(x, y, letter, fontsize=20, fontweight='bold', ha='left', va='center')

plt.savefig('out.png', dpi=100)
